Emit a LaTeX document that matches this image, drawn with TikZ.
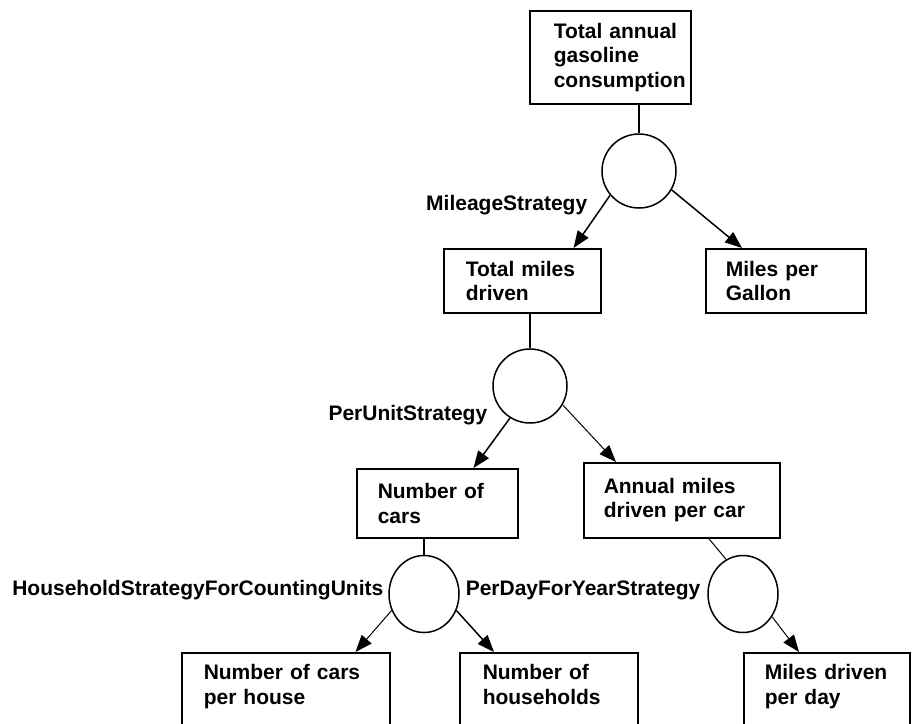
\documentclass[tikz,border=0pt]{standalone}
\usepackage{fontspec}
\setmainfont{Liberation Sans}
\usetikzlibrary{arrows.meta,shapes.geometric}

\begin{document}
\begin{tikzpicture}[x=1pt,y=-1pt,>={Triangle[length=17pt,width=13pt]},
		line width=1.5pt, inner sep=0pt,
		font=\fontsize{21}{24.5}\selectfont\bfseries]
		\tikzstyle{box}=[draw,rectangle,anchor=north west,align=left]
		\tikzstyle{strat}=[draw,circle,minimum size=74pt,fill=white]
		\tikzstyle{stratv}=[draw,ellipse,minimum width=70pt,minimum height=77pt,fill=white]
		\tikzstyle{lbl}=[anchor=base east]
		\tikzstyle{slim}=[line width=1pt]

		\useasboundingbox (0,0) rectangle (913,723);
		\clip (0,0) rectangle (913,723);

		% quantities
		\node[box, text width=113pt, minimum height=93pt, inner xsep=24pt] (total) at (529,10) {\mbox{Total annual}\\gasoline\\\mbox{consumption}};
		\node[box, text width=113pt, minimum height=64pt, inner xsep=22pt] (miles) at (443,248) {Total miles\\driven};
		\node[box, text width=120pt, minimum height=64pt, inner xsep=20pt] (mpg) at (705,248) {Miles per\\Gallon};
		\node[box, text width=119pt, minimum height=69pt, inner xsep=21pt] (cars) at (356,468) {Number of\\cars};
		\node[box, text width=156pt, minimum height=75pt, inner xsep=20pt] (annual) at (583,462) {Annual miles\\driven per car};
		\node[box, text width=164pt, inner xsep=22pt, inner ysep=12pt] (carsper) at (181,652) {\parbox[t][90pt][t]{164pt}{Number of cars\\per house}};
		\node[box, text width=132pt, inner xsep=23pt, inner ysep=12pt] (households) at (459,652) {\parbox[t][90pt][t]{132pt}{Number of\\households}};
		\node[box, text width=124pt, inner xsep=21pt, inner ysep=12pt] (perdaymiles) at (743,652) {\parbox[t][90pt][t]{124pt}{Miles driven\\per day}};

		% strategies
		\node[strat] (mileage) at (639,171) {};
		\node[strat] (perunit) at (530,386) {};
		\node[stratv] (household) at (424,594) {};
		\node[stratv] (perday) at (743,594) {};

		\node[lbl] (mileagelbl) at (588,210) {MileageStrategy};
		\node[lbl] (perunitlbl) at (488,420) {PerUnitStrategy};
		\node[lbl] (householdlbl) at (384,595) {HouseholdStrategyForCountingUnits};
		\node[anchor=base west] (perdaylbl) at (465,595) {PerDayForYearStrategy};

		% connectors
		\draw (mileage.north |- total.south) -- (mileage);
		\draw[->] (mileage.220) -- ([xshift=-28pt]miles.north east);
		\draw[->] (mileage.330) -- ([xshift=37pt]mpg.north west);
		\draw (perunit.north |- miles.south) -- (perunit);
		\draw[->] (perunit.238) -- ([xshift=-45pt]cars.north east);
		\draw[->, slim] (perunit.330) -- ([xshift=33pt]annual.north west);
		\draw (household.north |- cars.south) -- (household);
		\draw[->, slim] (household.207) -- ([xshift=-35pt]carsper.north east);
		\draw[->] (household.333) -- ([xshift=35pt]households.north west);
		\draw[slim] ([xshift=27pt]annual.south) -- (perday.116);
		\draw[->, slim] (perday.322) -- ([xshift=56pt]perdaymiles.north west);
\end{tikzpicture}
\end{document}
